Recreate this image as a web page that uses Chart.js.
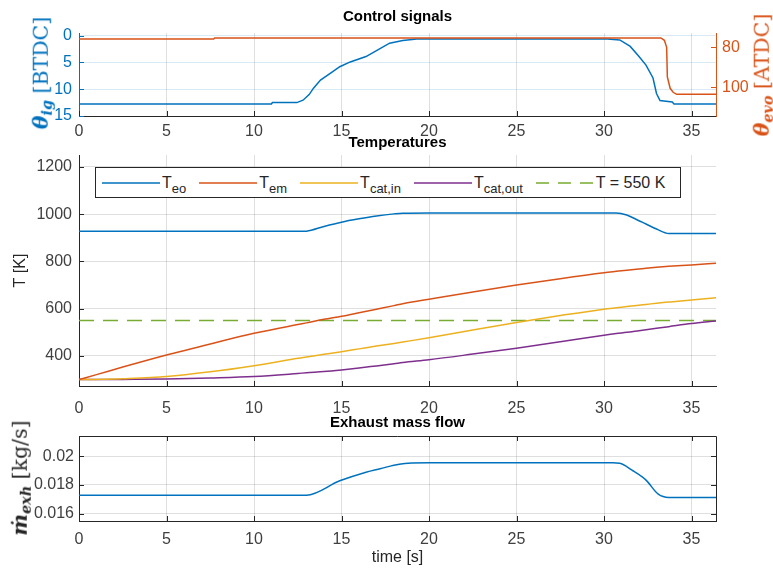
<!DOCTYPE html>
<html>
<head>
<meta charset="utf-8">
<script src="https://cdn.jsdelivr.net/npm/chart.js@4/dist/chart.umd.min.js"></script>
<style>
  html, body { margin: 0; padding: 0; background: #fff; }
  #wrap { position: relative; width: 773px; height: 568px; overflow: hidden; }
  #wrap canvas { position: absolute; left: 0; top: 0; }
  .ylab {
    position: absolute; white-space: nowrap; line-height: 1;
    transform: translate(-50%, -50%) rotate(-90deg);
    font-family: 'DejaVu Serif', 'Liberation Serif', serif; font-size: 20.5px;
  }
  .ylab .m { font-weight: bold; font-style: italic; }
  .ylab sub { font-size: 0.7em; vertical-align: baseline; position: relative; top: 0.3em; }
  #legend {
    position: absolute; left: 95px; top: 167px; width: 586px; height: 31px;
    box-sizing: border-box; border: 1px solid #262626; background: #fff;
    display: flex; align-items: center; padding-left: 6px;
    font-family: 'Liberation Sans', Arial, sans-serif; font-size: 16px; color: #262626;
  }
  #legend .item { display: flex; align-items: center; margin-right: 13px; }
  #legend svg { display: block; margin-right: 2px; }
  #legend sub { font-size: 13px; vertical-align: baseline; position: relative; top: 5px; }
</style>
</head>
<body>
<div id="wrap">
  <canvas id="cCtrl" width="773" height="568"></canvas>
  <canvas id="cTemp" width="773" height="568"></canvas>
  <canvas id="cFlow" width="773" height="568"></canvas>
  <div class="ylab" style="left:41px; top:73px; color:#0072BD;"><span class="m">θ<sub>ig</sub></span> [BTDC]</div>
  <div class="ylab" style="left:762px; top:75px; color:#D95319;"><span class="m">θ<sub>evo</sub></span> [ATDC]</div>
  <div class="ylab" style="left:20px; top:478px; color:#262626;"><span class="m">ṁ<sub>exh</sub></span> [kg/s]</div>
  <div id="legend"></div>
</div>
<script>
// ---------- shared time axis ----------
const T_MAX = 36.4;
const timeTicks = [0, 5, 10, 15, 20, 25, 30, 35];

// ---------- control signals ----------
const tIgn = [0, 11.0, 11.05, 12.45, 12.8, 13.15, 13.4, 13.8, 14.5, 14.9, 15.5, 16.4, 17.2, 17.75, 18.5, 19.3,
              30.2, 30.9, 31.5, 32.0, 32.4, 32.8, 33.0, 33.2, 33.9, 34.0, 36.4];
const thetaIgn = [12.75, 12.75, 12.5, 12.5, 12.05, 11.0, 9.8, 8.3, 6.7, 5.8, 4.9, 3.9, 2.4, 1.4, 0.9, 0.6,
                  0.6, 0.8, 2.0, 3.9, 5.5, 7.9, 10.8, 12.1, 12.4, 12.75, 12.75];
const tEvo = [0, 7.7, 7.75, 33.25, 33.45, 33.58, 33.62, 33.78, 33.95, 34.15, 36.4];
const thetaEvo = [75.9, 75.9, 75.3, 75.3, 76.5, 80.0, 94.8, 100.5, 102.5, 103.5, 103.5];
const ignTicks = [0, 5, 10, 15];
const evoTicks = [80, 100];

// ---------- temperatures ----------
const tTemp = [0, 1, 2.5, 5, 7.5, 10, 12.5, 13, 14, 15, 16, 17, 18, 18.5, 20, 22.5, 25, 27.5, 30,
               30.7, 31.3, 32, 32.4, 33, 33.7, 35, 36.4];
const T_eo = [927, 927, 927, 927, 927, 927, 927, 928, 948, 966, 980, 992, 1001, 1004, 1005, 1005, 1005, 1005, 1005,
              1005, 996, 972, 958, 937, 918, 918, 918];
const T_em = [300, 321, 353, 404, 451, 496, 533, 540, 555, 568, 583, 598, 613, 621, 640, 671, 700, 727, 752,
              758, 763, 768, 771, 775, 779, 785, 792];
const T_catIn = [300, 301, 304, 313, 333, 359, 390, 396, 407, 418, 430, 442, 453, 459, 477, 510, 542, 571, 598,
                 604, 609, 615, 618, 623, 628, 637, 646];
const T_catOut = [300, 300, 301, 303, 307, 313, 326, 329, 334, 341, 349, 358, 367, 372, 384, 408, 433, 460, 488,
                  495, 500, 507, 511, 517, 524, 537, 548];
const T_LIMIT = 550;
const tempTicks = [400, 600, 800, 1000, 1200];
const tempNames = [['T', 'eo'], ['T', 'em'], ['T', 'cat,in'], ['T', 'cat,out'], ['T = 550 K', '']];

// ---------- exhaust mass flow ----------
const tFlow = [0, 13.0, 14.9, 16.4, 17.2, 18.3, 20, 30.5, 30.9, 31.6, 32.4, 33.1, 33.7, 36.4];
const mExh = [0.01728, 0.01728, 0.01828, 0.01888, 0.01912, 0.01944, 0.01953, 0.01953, 0.01950, 0.01902,
              0.01833, 0.01735, 0.01712, 0.01712];
const flowTicks = [0.016, 0.018, 0.02];

// ---------- styling ----------
const BLUE = '#0072BD', ORANGE = '#D95319', YELLOW = '#EDB120', PURPLE = '#7E2F8E', GREEN = '#77AC30';
const AXIS = '#262626';
const GRID = 'rgba(38,38,38,0.15)';
const TICK_FONT = { family: "'Liberation Sans', Arial, sans-serif", size: 16 };
const TITLE_FONT = { family: "'Liberation Sans', Arial, sans-serif", size: 15, weight: 'bold' };

const pts = (xs, ys) => xs.map((x, i) => ({ x: x, y: ys[i] }));
const fixedTicks = values => scale => { scale.ticks = values.map(v => ({ value: v })); };
const fmt = v => String(+(+v).toFixed(4));

// small tick marks drawn inward from the plot edges
const inwardTicks = {
  id: 'inwardTicks',
  afterDatasetsDraw(chart, args, opts) {
    const ctx = chart.ctx, a = chart.chartArea, L = 5;
    ctx.save();
    ctx.lineWidth = 1;
    Object.values(chart.scales).forEach(s => {
      ctx.strokeStyle = s.options.border.color;
      s.ticks.forEach(t => {
        const p = Math.round(s.getPixelForValue(t.value)) + 0.5;
        ctx.beginPath();
        if (s.axis === 'x') {
          ctx.moveTo(p, a.bottom); ctx.lineTo(p, a.bottom - L);
          if (opts.mirror) { ctx.moveTo(p, a.top); ctx.lineTo(p, a.top + L); }
        } else if (s.position === 'left') {
          ctx.moveTo(a.left, p); ctx.lineTo(a.left + L, p);
          if (opts.mirror) { ctx.moveTo(a.right, p); ctx.lineTo(a.right - L, p); }
        } else {
          ctx.moveTo(a.right, p); ctx.lineTo(a.right - L, p);
        }
        ctx.stroke();
      });
    });
    ctx.restore();
  }
};

// closes the axes box on the top and right edges
const frame = {
  id: 'frame',
  afterDraw(chart, args, opts) {
    if (!opts.on) return;
    const ctx = chart.ctx, a = chart.chartArea;
    ctx.save();
    ctx.strokeStyle = AXIS; ctx.lineWidth = 1;
    ctx.beginPath();
    ctx.moveTo(Math.round(a.left), Math.round(a.top) + 0.5);
    ctx.lineTo(Math.round(a.right) + 0.5, Math.round(a.top) + 0.5);
    ctx.lineTo(Math.round(a.right) + 0.5, Math.round(a.bottom));
    ctx.stroke();
    ctx.restore();
  }
};

function timeScale(labelPad, height, title) {
  return {
    type: 'linear', position: 'bottom', min: 0, max: T_MAX,
    afterBuildTicks: fixedTicks(timeTicks),
    afterFit: s => { s.height = height; },
    ticks: { color: '#404040', font: TICK_FONT, padding: labelPad, callback: fmt, maxRotation: 0 },
    grid: { color: GRID, drawTicks: false },
    border: { color: AXIS },
    title: title || { display: false }
  };
}

const common = {
  responsive: false, animation: false, devicePixelRatio: 1,
  elements: { point: { radius: 0 }, line: { borderWidth: 1.5, tension: 0 } },
};

// ---------- panel 1: control signals ----------
new Chart(document.getElementById('cCtrl'), {
  type: 'line',
  data: {
    datasets: [
      { label: 'theta_evo', data: pts(tEvo, thetaEvo), yAxisID: 'yR', borderColor: ORANGE },
      { label: 'theta_ig', data: pts(tIgn, thetaIgn), yAxisID: 'yL', borderColor: BLUE }
    ]
  },
  options: Object.assign({}, common, {
    layout: { padding: { left: 0, right: 0, top: 0, bottom: 422 } },
    plugins: {
      legend: { display: false }, tooltip: { enabled: false },
      title: { display: true, text: 'Control signals', fullSize: false, color: '#000', font: TITLE_FONT,
               padding: { top: 7.5, bottom: 7.5 } },
      inwardTicks: {}, frame: { on: false }
    },
    scales: {
      x: timeScale(6, 30),
      yL: {
        type: 'linear', position: 'left', reverse: true, min: -0.5, max: 15,
        afterBuildTicks: fixedTicks(ignTicks), afterFit: s => { s.width = 79; },
        ticks: { color: BLUE, font: TICK_FONT, padding: 7, callback: fmt },
        grid: { color: 'rgba(0,114,189,0.15)', drawTicks: false },
        border: { color: BLUE }
      },
      yR: {
        type: 'linear', position: 'right', reverse: true, min: 72.85, max: 114.35,
        afterBuildTicks: fixedTicks(evoTicks), afterFit: s => { s.width = 57; },
        ticks: { color: ORANGE, font: TICK_FONT, padding: 6, callback: fmt },
        grid: { display: false, drawTicks: false },
        border: { display: true, color: ORANGE }
      }
    }
  }),
  plugins: [inwardTicks, frame]
});

// ---------- panel 2: temperatures ----------
const tempChart = new Chart(document.getElementById('cTemp'), {
  type: 'line',
  data: {
    datasets: [
      { label: 'T_eo', data: pts(tTemp, T_eo), borderColor: BLUE, cubicInterpolationMode: 'monotone' },
      { label: 'T_em', data: pts(tTemp, T_em), borderColor: ORANGE, cubicInterpolationMode: 'monotone' },
      { label: 'T_cat,in', data: pts(tTemp, T_catIn), borderColor: YELLOW, cubicInterpolationMode: 'monotone' },
      { label: 'T_cat,out', data: pts(tTemp, T_catOut), borderColor: PURPLE, cubicInterpolationMode: 'monotone' },
      { label: 'T = 550 K', data: pts([0, T_MAX], [T_LIMIT, T_LIMIT]), borderColor: GREEN, borderDash: [15, 9] }
    ]
  },
  options: Object.assign({}, common, {
    layout: { padding: { left: 0, right: 57, top: 134, bottom: 146 } },
    plugins: {
      legend: { display: false }, tooltip: { enabled: false },
      title: { display: true, text: 'Temperatures', fullSize: false, color: '#000', font: TITLE_FONT,
               padding: { top: 0, bottom: 3 } },
      inwardTicks: {}, frame: { on: false }
    },
    scales: {
      x: timeScale(13, 36),
      y: {
        type: 'linear', position: 'left', min: 273, max: 1250,
        afterBuildTicks: fixedTicks(tempTicks), afterFit: s => { s.width = 79; },
        ticks: { color: '#404040', font: TICK_FONT, padding: 7, callback: fmt },
        grid: { color: GRID, drawTicks: false },
        border: { color: AXIS },
        title: { display: true, text: 'T [K]', color: AXIS, font: TICK_FONT, padding: { top: 10.9, bottom: 0 } }
      }
    }
  }),
  plugins: [inwardTicks, frame]
});

// ---------- panel 3: exhaust mass flow ----------
new Chart(document.getElementById('cFlow'), {
  type: 'line',
  data: { datasets: [{ label: 'm_exh', data: pts(tFlow, mExh), borderColor: BLUE, cubicInterpolationMode: 'monotone' }] },
  options: Object.assign({}, common, {
    layout: { padding: { left: 0, right: 57, top: 414, bottom: 0 } },
    plugins: {
      legend: { display: false }, tooltip: { enabled: false },
      title: { display: true, text: 'Exhaust mass flow', fullSize: false, color: '#000', font: TITLE_FONT,
               padding: { top: 0, bottom: 4 } },
      inwardTicks: { mirror: true }, frame: { on: true }
    },
    scales: {
      x: timeScale(8.5, 47, { display: true, text: 'time [s]', color: AXIS, font: TICK_FONT, padding: { top: 0, bottom: 0.5 } }),
      y: {
        type: 'linear', position: 'left', min: 0.01548, max: 0.0214,
        afterBuildTicks: fixedTicks(flowTicks), afterFit: s => { s.width = 79; },
        ticks: { color: '#404040', font: TICK_FONT, padding: 5, callback: fmt },
        grid: { color: GRID, drawTicks: false },
        border: { color: AXIS }
      }
    }
  }),
  plugins: [inwardTicks, frame]
});

// ---------- legend for the temperature panel ----------
const legendEl = document.getElementById('legend');
tempChart.data.datasets.forEach((ds, i) => {
  const item = document.createElement('span');
  item.className = 'item';
  const dash = ds.borderDash ? 'stroke-dasharray="13 9"' : '';
  item.innerHTML =
    '<svg width="58" height="4"><line x1="0" y1="2" x2="58" y2="2" stroke="' + ds.borderColor +
    '" stroke-width="1.5" ' + dash + '/></svg>' +
    '<span>' + tempNames[i][0] + (tempNames[i][1] ? '<sub>' + tempNames[i][1] + '</sub>' : '') + '</span>';
  legendEl.appendChild(item);
});
</script>
</body>
</html>
